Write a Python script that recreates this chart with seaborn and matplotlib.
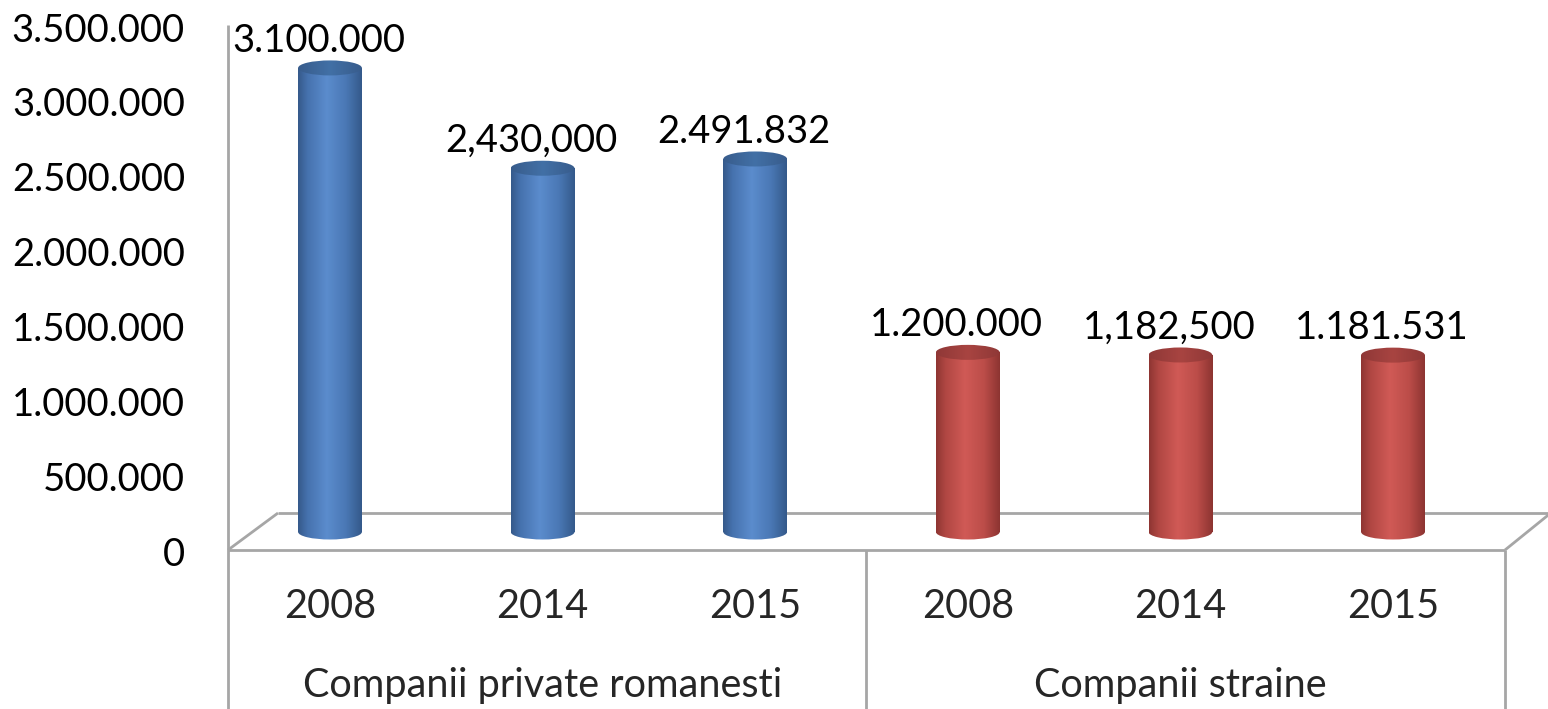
import numpy as np
import pandas as pd
import matplotlib
matplotlib.use("Agg")
import matplotlib.pyplot as plt
import seaborn as sns
from matplotlib.patches import Ellipse
from matplotlib.colors import LinearSegmentedColormap
from matplotlib.transforms import blended_transform_factory

# values
groups = ['Companii private romanesti'] * 3 + ['Companii straine'] * 3
group_names = ['Companii private romanesti', 'Companii straine']
years = ['2008', '2014', '2015', '2008', '2014', '2015']
values = [3100000, 2430000, 2491832, 1200000, 1182500, 1181531]
value_labels = ['3.100.000', '2,430,000', '2.491.832', '1.200.000', '1,182,500', '1.181.531']
y_ticks = [0, 500000, 1000000, 1500000, 2000000, 2500000, 3000000, 3500000]
y_tick_labels = ['0', '500.000', '1.000.000', '1.500.000', '2.000.000',
                 '2.500.000', '3.000.000', '3.500.000']

W, H = 1548, 709
FONT = 'Lato'
FS = 28.5       # category labels
FS_NUM = 27.5   # numbers (Lato digits run a bit wide)
GRID = '#a6a6a6'

sns.set_style('white')
plt.rcParams['font.family'] = [FONT, 'DejaVu Sans']

df = pd.DataFrame({'group': groups, 'year': years, 'value': values})
df['slot'] = [g + ' ' + y for g, y in zip(groups, years)]

fig = plt.figure(figsize=(W / 100, H / 100), dpi=100)

# axes box in pixels: x 228..1505, y 25..551 (front floor edge)
ax = fig.add_axes([228 / W, 1 - 551 / H, (1505 - 228) / W, (551 - 25) / H])
ax.patch.set_alpha(0)

px_per_val = 149.7 / 1e6          # pixel per unit
off = 19 / px_per_val              # bars stand a bit behind the front edge
ymin = -off
ymax = (551 - 25) / px_per_val - off
step = 212.6                       # pixels between bar centres
xmin = -(330 - 228) / step
xmax = 5 + (1505 - 1393) / step

blue, red = '#4f81bd', '#c0504d'
sns.barplot(data=df, x='slot', y='value', hue='group', order=list(df['slot']),
            palette=[blue, red], dodge=False, width=0.30, saturation=1,
            legend=False, ax=ax, edgecolor='none', zorder=1)
ax.set_autoscale_on(False)
ax.set_xlim(xmin, xmax)
ax.set_ylim(ymin, ymax)

body_cmaps = {
    blue: LinearSegmentedColormap.from_list('b', [(0, '#35598a'), (0.15, '#4672ae'), (0.45, '#5b8ccd'),
                                                  (0.75, '#4a78b5'), (1, '#34598a')]),
    red: LinearSegmentedColormap.from_list('r', [(0, '#8e3532'), (0.15, '#b04743'), (0.45, '#d05a56'),
                                                 (0.75, '#bc4d49'), (1, '#8c3431')]),
}
top_cmaps = {
    blue: LinearSegmentedColormap.from_list('bt', ['#385c8c', '#4270a6', '#385c8c']),
    red: LinearSegmentedColormap.from_list('rt', ['#8f3837', '#a84441', '#8f3837']),
}
grad = np.linspace(0, 1, 256).reshape(1, -1)
ell_h = 15 / px_per_val

bars = sorted(ax.patches, key=lambda p: p.get_x())
for i, p in enumerate(bars):
    col = blue if i < 3 else red
    x0, w, h = p.get_x(), p.get_width(), p.get_height()
    xc = x0 + w / 2
    p.set_alpha(0)
    # bottom rounded end
    bot = Ellipse((xc, 0), w, ell_h, facecolor='none', edgecolor='none')
    ax.add_patch(bot)
    im = ax.imshow(grad, extent=(x0, x0 + w, -ell_h, ell_h), cmap=body_cmaps[col],
                   aspect='auto', zorder=1.05, interpolation='bilinear')
    im.set_clip_path(bot)
    # cylinder body
    body = plt.Rectangle((x0, 0), w, h, facecolor='none', edgecolor='none')
    ax.add_patch(body)
    im = ax.imshow(grad, extent=(x0, x0 + w, 0, h), cmap=body_cmaps[col],
                   aspect='auto', zorder=1.1, interpolation='bilinear')
    im.set_clip_path(body)
    # top cap
    top = Ellipse((xc, h), w, ell_h, facecolor='none', edgecolor='none')
    ax.add_patch(top)
    im = ax.imshow(grad, extent=(x0, x0 + w, h - ell_h, h + ell_h), cmap=top_cmaps[col],
                   aspect='auto', zorder=1.2, interpolation='bilinear')
    im.set_clip_path(top)
    ax.annotate(value_labels[i], xy=(xc, h), xytext=(-11, 16), textcoords='offset pixels',
                ha='center', va='baseline', fontsize=FS_NUM, color='black', zorder=3)

ax.set_xlim(xmin, xmax)
ax.set_ylim(ymin, ymax)


def line_px(xs, ys, z=0.5):
    ax.plot([x / W for x in xs], [1 - y / H for y in ys], transform=fig.transFigure,
            color=GRID, lw=2, clip_on=False, zorder=z, solid_capstyle='butt')


# 3D floor and category frame
line_px([278, 1560], [513, 513])
line_px([228, 278], [550, 513])
line_px([1505, 1552], [550, 512])
line_px([228, 1505], [550, 550])
line_px([228, 228], [25, 709])
line_px([866, 866], [550, 709])
line_px([1505, 1505], [550, 709])

ax.set_xticks([])
ax.set_xlabel('')
ax.set_ylabel('')
ax.set_yticks([])
for s in ax.spines.values():
    s.set_visible(False)

sec = ax.secondary_yaxis('left', functions=(lambda y: y + off, lambda y: y - off))
sec.set_yticks(y_ticks)
sec.set_yticklabels(y_tick_labels)
sec.tick_params(length=0, pad=31, labelsize=FS_NUM, colors='black')
sec.spines['left'].set_visible(False)

# two-level category labels
tr = blended_transform_factory(ax.transData, fig.transFigure)
for i, y in enumerate(years):
    ax.text(i, 1 - 618 / H, y, transform=tr, ha='center', va='baseline', fontsize=FS)
for j, g in enumerate(group_names):
    ax.text(1 + 3 * j, 1 - 697 / H, g, transform=tr, ha='center', va='baseline', fontsize=FS)

fig.savefig('out.png', dpi=100)
